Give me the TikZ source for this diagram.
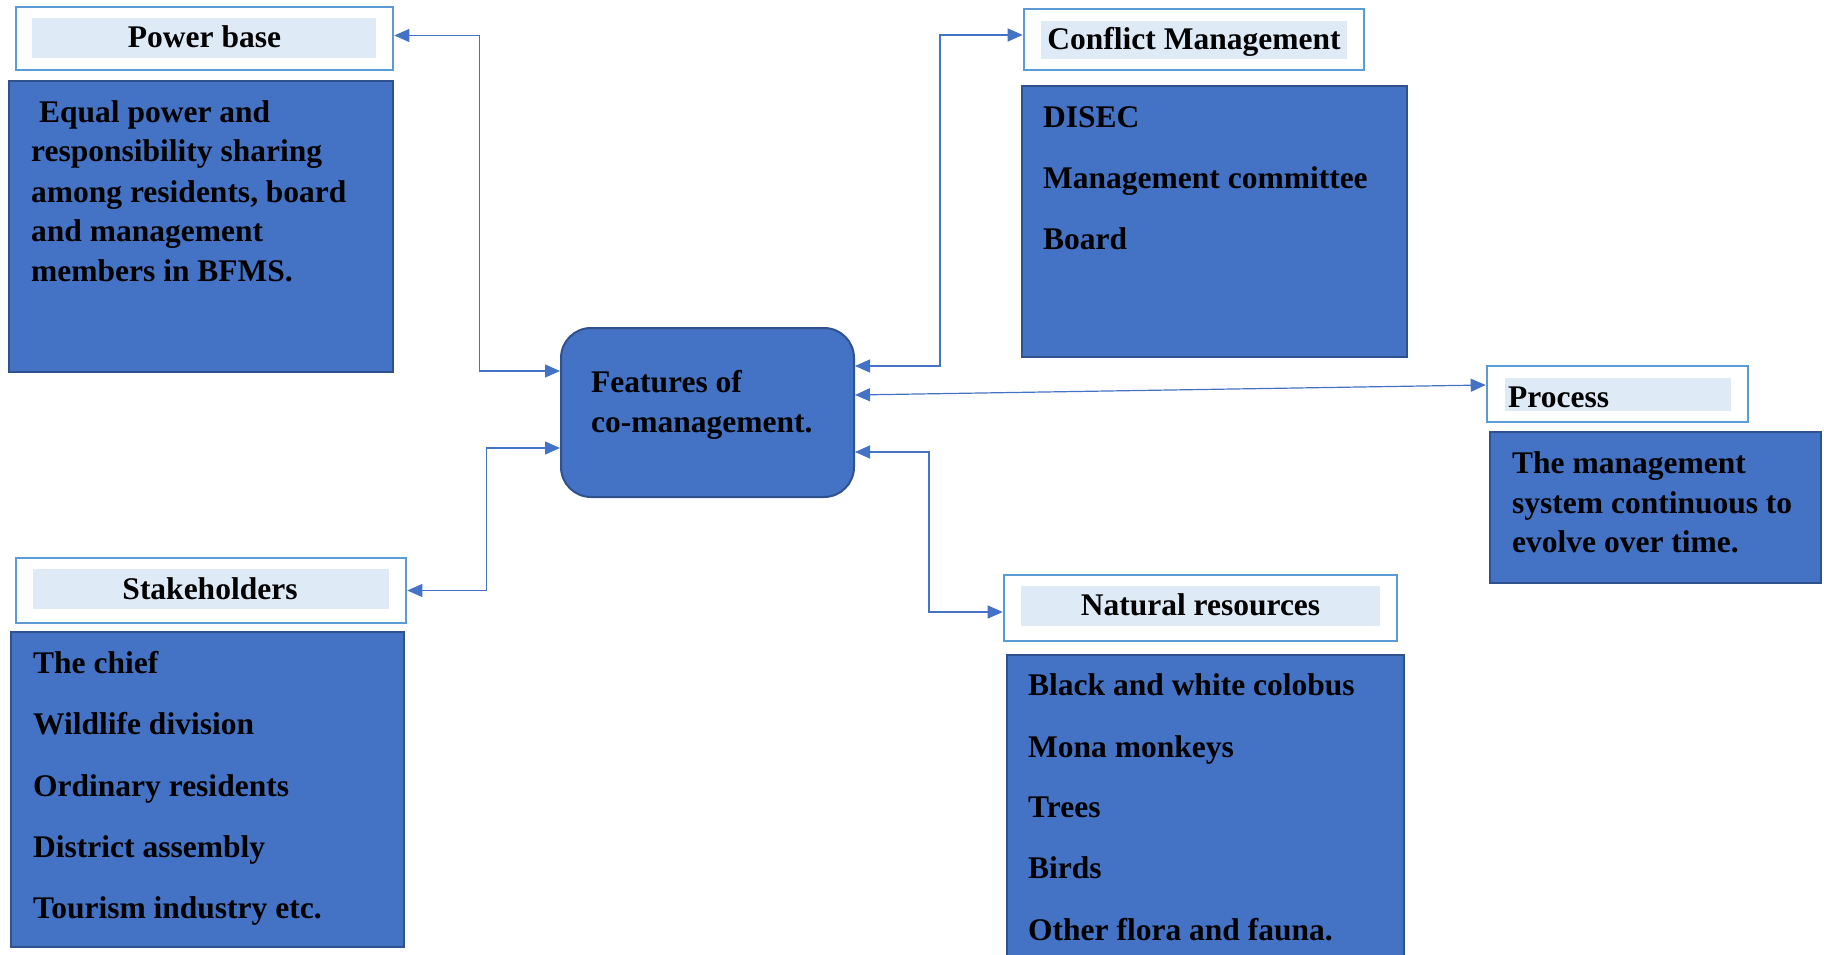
\documentclass[tikz,border=0pt]{standalone}
\usepackage{fontspec}
\setmainfont{Liberation Serif}
\usetikzlibrary{arrows.meta,fit}
\definecolor{boxfill}{HTML}{4472C4}
\definecolor{boxline}{HTML}{2F528F}
\definecolor{hdrline}{HTML}{5B9BD5}
\definecolor{hdrfill}{HTML}{DEEBF7}
\definecolor{conncol}{HTML}{4472C4}
\tikzset{
  hdr/.style={draw=hdrline, line width=2.6pt, fill=white, inner sep=0pt},
  hdrin/.style={fill=hdrfill, inner sep=0pt},
  cbox/.style={draw=boxline, line width=2pt, fill=boxfill, inner sep=0pt},
  centerbox/.style={draw=boxline, line width=2pt, fill=boxfill, inner sep=0pt, rounded corners=30pt},
  txt/.style={inner sep=0pt, anchor=base west, font=\bfseries\fontsize{31.5}{38}\selectfont},
  ctxt/.style={inner sep=0pt, anchor=base, font=\bfseries\fontsize{31.5}{38}\selectfont},
  conn/.style={draw=conncol, line width=1.2pt, {Triangle[length=15pt,width=13pt]}-{Triangle[length=15pt,width=13pt]}}
}
\begin{document}
\begin{tikzpicture}[x=1pt,y=-1pt]
\useasboundingbox (0,0) rectangle (1824,955);
% ---- Power base
\node[hdr, fit={(16,7) (393,70)}] (pbh) {};
\node[hdrin, fit={(32,18) (376,58)}] (pbhi) {};
\node[ctxt] (pbht) at (204.5,48) {Power base};
\node[cbox, fit={(9,81) (393,372)}] (pbc) {};
\node[txt] (pb1) at (39,123) {Equal power and};
\node[txt] (pb2) at (31,162) {responsibility sharing};
\node[txt] (pb3) at (31,202) {among residents, board};
\node[txt] (pb4) at (31,241) {and management};
\node[txt] (pb5) at (31,281) {members in BFMS.};
% ---- Conflict Management
\node[hdr, fit={(1024,9) (1364,70)}] (cmh) {};
\node[hdrin, fit={(1041,21) (1347,59)}] (cmhi) {};
\node[ctxt] (cmht) at (1194,50) {Conflict Management};
\node[cbox, fit={(1022,86) (1407,357)}] (cmc) {};
\node[txt] (cm1) at (1043,128) {DISEC};
\node[txt] (cm2) at (1043,189) {Management committee};
\node[txt] (cm3) at (1043,249) {Board};
% ---- Process
\node[hdr, fit={(1487,366) (1748,422)}] (prh) {};
\node[hdrin, fit={(1505,378) (1731,411)}] (prhi) {};
\node[txt] (prht) at (1508,407) {Process};
\node[cbox, fit={(1490,432) (1821,583)}] (prc) {};
\node[txt] (pr1) at (1512,473) {The management};
\node[txt] (pr2) at (1512,513) {system continuous to};
\node[txt] (pr3) at (1512,552) {evolve over time.};
% ---- Stakeholders
\node[hdr, fit={(16,558) (406,623)}] (shh) {};
\node[hdrin, fit={(33,569) (389,609)}] (shhi) {};
\node[ctxt] (shht) at (210,599) {Stakeholders};
\node[cbox, fit={(11,632) (404,947)}] (shc) {};
\node[txt] (sh1) at (33,673) {The chief};
\node[txt] (sh2) at (33,734) {Wildlife division};
\node[txt] (sh3) at (33,796) {Ordinary residents};
\node[txt] (sh4) at (33,857) {District assembly};
\node[txt] (sh5) at (33,918) {Tourism industry etc.};
% ---- Natural resources
\node[hdr, fit={(1004,575) (1397,641)}] (nrh) {};
\node[hdrin, fit={(1021,586) (1380,626)}] (nrhi) {};
\node[ctxt] (nrht) at (1200.5,615) {Natural resources};
\node[cbox, fit={(1007,655) (1404,965)}] (nrc) {};
\node[txt] (nr1) at (1028,695) {Black and white colobus};
\node[txt] (nr2) at (1028,757) {Mona monkeys};
\node[txt] (nr3) at (1028,817) {Trees};
\node[txt] (nr4) at (1028,878) {Birds};
\node[txt] (nr5) at (1028,940) {Other flora and fauna.};
% ---- Center
\node[centerbox, fit={(561,328) (854,497)}] (cm) {};
\node[txt] (cmt1) at (591,392) {Features of};
\node[txt] (cmt2) at (591,432) {co-management.};
% ---- Connectors
\draw[conn] ([yshift=3pt]pbh.east) -- ++(85,0) |- ([yshift=41.5pt]cm.west);
\draw[conn] (shh.east) -- ++(79,0) |- ([yshift=-35.5pt]cm.west);
\draw[conn] ([yshift=46.5pt]cm.east) -- ++(85,0) |- ([yshift=4.5pt]cmh.west);
\draw[conn] ([yshift=17.5pt]cm.east) -- ([yshift=9pt]prh.west);
\draw[conn] ([yshift=-39.5pt]cm.east) -- ++(74,0) |- ([yshift=-4pt]nrh.west);
\end{tikzpicture}
\end{document}
